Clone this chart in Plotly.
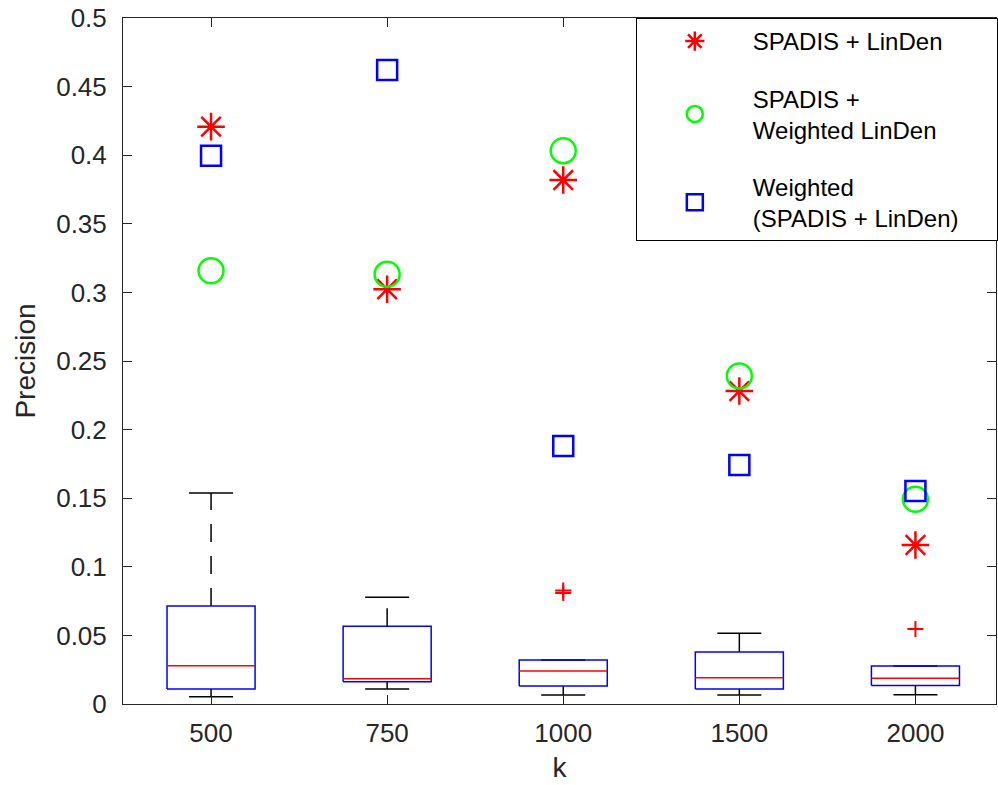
import plotly.graph_objects as go

# ---- data ----
k_labels = ["500", "750", "1000", "1500", "2000"]
positions = [1, 2, 3, 4, 5]

upper_whisker = [0.1538, 0.0778, 0.0321, 0.0515, 0.0277]
q3_vals = [0.0714, 0.0566, 0.0321, 0.0379, 0.0277]
median_vals = [0.0279, 0.0184, 0.0240, 0.0192, 0.0187]
q1_vals = [0.0109, 0.0163, 0.0131, 0.0109, 0.0134]
lower_whisker = [0.0053, 0.0109, 0.0066, 0.0066, 0.0068]
outlier_pos = [3, 3, 5]
outlier_vals = [0.0827, 0.0809, 0.0547]

spadis_linden = [0.4208, 0.3023, 0.3819, 0.2281, 0.1159]
spadis_weighted_linden = [0.3158, 0.3132, 0.4033, 0.2391, 0.1492]
weighted_spadis_linden = [0.3996, 0.4621, 0.1880, 0.1742, 0.1552]

y_ticks = [0, 0.05, 0.1, 0.15, 0.2, 0.25, 0.3, 0.35, 0.4, 0.45, 0.5]
y_tick_text = ["0", "0.05", "0.1", "0.15", "0.2", "0.25", "0.3", "0.35", "0.4", "0.45", "0.5"]

BOX_HALF = 0.25
CAP_HALF = 0.125
AXC = "#262626"
FONT = "Liberation Sans, Arial, sans-serif"
PAD = "\u00a0" * 5

fig = go.Figure()

# box rectangles
bx, by = [], []
for p, a, b in zip(positions, q1_vals, q3_vals):
    bx += [p - BOX_HALF, p + BOX_HALF, p + BOX_HALF, p - BOX_HALF, p - BOX_HALF, None]
    by += [a, a, b, b, a, None]

# whiskers
uwx, uwy, lwx, lwy = [], [], [], []
for p, q3, uw, q1, lw in zip(positions, q3_vals, upper_whisker, q1_vals, lower_whisker):
    if uw > q3:
        uwx += [p, p, None]
        uwy += [q3, uw, None]
    if lw < q1:
        lwx += [p, p, None]
        lwy += [q1, lw, None]

# caps
cx, cy = [], []
for p, uw, lw in zip(positions, upper_whisker, lower_whisker):
    cx += [p - CAP_HALF, p + CAP_HALF, None, p - CAP_HALF, p + CAP_HALF, None]
    cy += [uw, uw, None, lw, lw, None]

# medians
mx, my = [], []
for p, m in zip(positions, median_vals):
    mx += [p - BOX_HALF, p + BOX_HALF, None]
    my += [m, m, None]

line_common = dict(mode="lines", showlegend=False, hoverinfo="skip")
fig.add_trace(go.Scatter(x=uwx, y=uwy, line=dict(color="black", width=1.5, dash="18px,14px"), **line_common))
fig.add_trace(go.Scatter(x=lwx, y=lwy, line=dict(color="black", width=1.5, dash="18px,14px"), **line_common))
fig.add_trace(go.Scatter(x=cx, y=cy, line=dict(color="black", width=1.5), **line_common))
fig.add_trace(go.Scatter(x=bx, y=by, line=dict(color="#0000ff", width=1.5), **line_common))
fig.add_trace(go.Scatter(x=mx, y=my, line=dict(color="#ff0000", width=1.5), **line_common))
fig.add_trace(go.Scatter(x=outlier_pos, y=outlier_vals, mode="markers", showlegend=False,
                         marker=dict(symbol="cross-thin-open", size=11.5, color="#ff0000",
                                     line=dict(color="#ff0000", width=2))))

# method markers
fig.add_trace(go.Scatter(x=positions, y=spadis_linden, mode="markers",
                         name="SPADIS + LinDen", legendgroup="a",
                         marker=dict(symbol="asterisk-open", size=23, color="#ff0000",
                                     line=dict(color="#ff0000", width=2.5))))
fig.add_trace(go.Scatter(x=positions, y=spadis_weighted_linden, mode="markers",
                         name="SPADIS +<br>Weighted LinDen", legendgroup="b",
                         marker=dict(symbol="circle-open", size=25, color="#00ff00",
                                     line=dict(color="#00ff00", width=2.5))))
fig.add_trace(go.Scatter(x=positions, y=weighted_spadis_linden, mode="markers",
                         name="Weighted<br>(SPADIS + LinDen)" + PAD, legendgroup="c",
                         marker=dict(symbol="square-open", size=20, color="#0000ff",
                                     line=dict(color="#0000ff", width=2.5))))

fig.update_layout(
    width=998, height=785,
    margin=dict(l=123, r=0, t=18, b=81),
    plot_bgcolor="white", paper_bgcolor="white",
    font=dict(family=FONT, size=24, color=AXC),
    legend=dict(x=(637 - 123) / 875, y=1, xanchor="left", yanchor="top",
                bgcolor="white", bordercolor="black", borderwidth=1,
                font=dict(size=24, color="black"), tracegroupgap=23,
                itemwidth=106),
    xaxis=dict(range=[0.5, 0.5 + 875 / 176.5], tickmode="array", tickvals=positions,
               ticktext=k_labels, ticks="inside", ticklen=9, tickcolor=AXC, tickwidth=1,
               showline=True, linecolor=AXC, linewidth=1, mirror="ticks",
               showgrid=False, zeroline=False, ticklabelstandoff=6,
               title=dict(text="k", font=dict(size=28, color=AXC), standoff=10),
               tickfont=dict(size=26, color=AXC)),
    yaxis=dict(range=[0, 0.5], tickmode="array", tickvals=y_ticks, ticktext=y_tick_text,
               ticks="inside", ticklen=9, tickcolor=AXC, tickwidth=1,
               showline=True, linecolor=AXC, linewidth=1, mirror="ticks",
               showgrid=False, zeroline=False, ticklabelstandoff=10,
               title=dict(text="Precision", font=dict(size=28, color=AXC), standoff=12),
               tickfont=dict(size=26, color=AXC)),
)

fig.write_html("out.html")
